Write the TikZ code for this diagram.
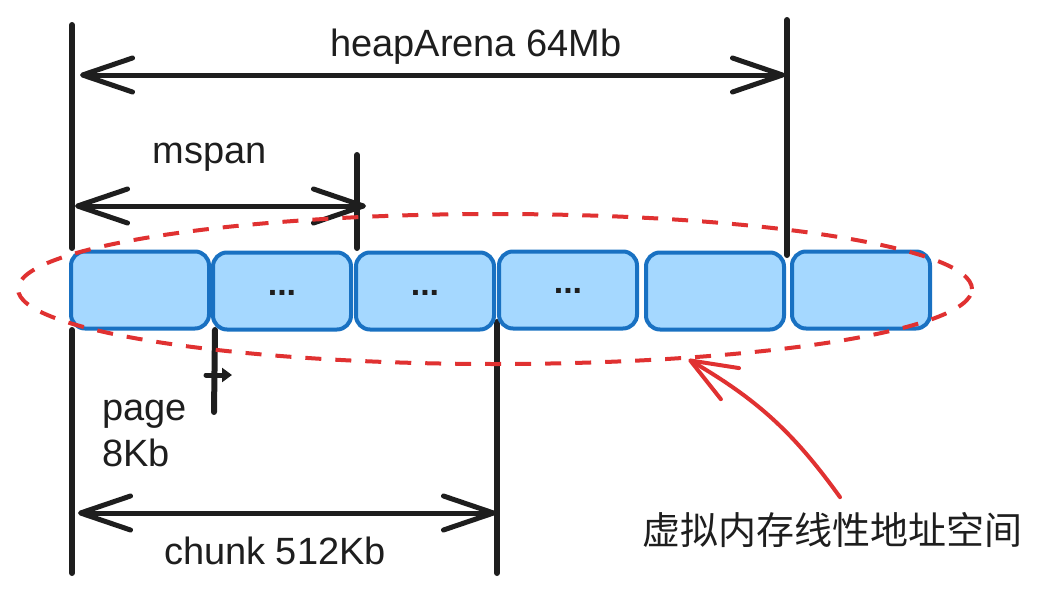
\documentclass[tikz,border=0pt]{standalone}
\usepackage{fontspec}
\setmainfont{Liberation Sans}
\newfontfamily\cjk{Noto Sans CJK SC}
\usetikzlibrary{arrows.meta,shapes.geometric}
\definecolor{ink}{HTML}{1E1E1E}
\definecolor{cellline}{HTML}{1971C2}
\definecolor{cellfill}{HTML}{A5D8FF}
\definecolor{redline}{HTML}{E03131}
\begin{document}
\begin{tikzpicture}[x=1pt,y=-1pt,
  cell/.style={draw=cellline, fill=cellfill, line width=4pt, rounded corners=14pt,
    minimum width=138pt, minimum height=77pt, inner sep=0pt,
    font=\fontsize{34}{34}\selectfont\bfseries, text=ink},
  bar/.style={draw=ink, line width=6pt, line cap=round},
  dimline/.style={draw=ink, line width=5pt, line cap=round,
    {Straight Barb[length=50pt,width=34pt,round]}-{Straight Barb[length=50pt,width=34pt,round]}},
  lbl/.style={text=ink, font=\fontsize{38}{46}\selectfont, inner sep=0pt},
  space/.style={draw=redline, line width=4pt, dash pattern=on 16pt off 14pt,
    ellipse, minimum width=954pt, minimum height=150pt, inner sep=0pt},
  pointer/.style={draw=redline, line width=4pt, line cap=round,
    -{Straight Barb[length=46pt,width=36pt,round]}},
]
\useasboundingbox (0,0) rectangle (1053,597);

% vertical bars
\coordinate (lt) at (72,25);   \coordinate (lm) at (72,248);
\coordinate (lb1) at (72,330); \coordinate (lb2) at (72,573);
\coordinate (rt) at (787,20);  \coordinate (rb) at (787,255);
\coordinate (mt) at (357,155); \coordinate (mb) at (357,248);
\coordinate (pt1) at (215,330); \coordinate (pb) at (214,412);
\coordinate (ct) at (497,322); \coordinate (cb) at (497,573);
\draw[bar] (lt) -- (lm);
\draw[bar] (lb1) -- (lb2);
\draw[bar] (rt) -- (rb);
\draw[bar] (mt) -- (mb);
\draw[bar] (pt1) -- (pb);
\draw[bar] (ct) -- (cb);

% dimension arrows
\coordinate (ha) at (80,75);  \coordinate (hb) at (785,75);
\coordinate (ma) at (75,206); \coordinate (mbb) at (366,206);
\coordinate (ca) at (78,513); \coordinate (cbb) at (496,513);
\draw[dimline] (ha) -- (hb);
\draw[dimline] (ma) -- (mbb);
\draw[dimline] (ca) -- (cbb);
\coordinate (tka) at (206,375); \coordinate (tkb) at (232,375);
\draw[draw=ink, line width=5pt, line cap=round, -{Triangle[length=10pt,width=14pt]}] (tka) -- (tkb);

% labels
\node[lbl] (heap) at (476,47) {heapArena 64Mb};
\node[lbl] (mspan) at (210,157) {mspan};
\node[lbl, align=left, anchor=north west] (page) at (102,400) {page\\8Kb};
\node[lbl] (chunk) at (275,551) {chunk 512Kb};

% cells
\node[cell] (b1) at (140,290) {};
\node[cell] (b2) at (282,291) {\raisebox{-9pt}{...}};
\node[cell] (b3) at (425,291) {\raisebox{-9pt}{...}};
\node[cell] (b4) at (568,290) {\raisebox{-7pt}{...}};
\node[cell] (b5) at (715,291) {};
\node[cell] (b6) at (861,290) {};

% virtual address space
\node[space] (vas) at (495,289) {};
\node[text=ink, font=\cjk\fontsize{38}{40}\selectfont, inner sep=2pt] (vtext) at (832,530) {虚拟内存线性地址空间};
\path (vtext.north) ++(8,-13) coordinate (pstart);
\draw[pointer] (pstart) to[bend right=12] (vas.-20);
\end{tikzpicture}
\end{document}
